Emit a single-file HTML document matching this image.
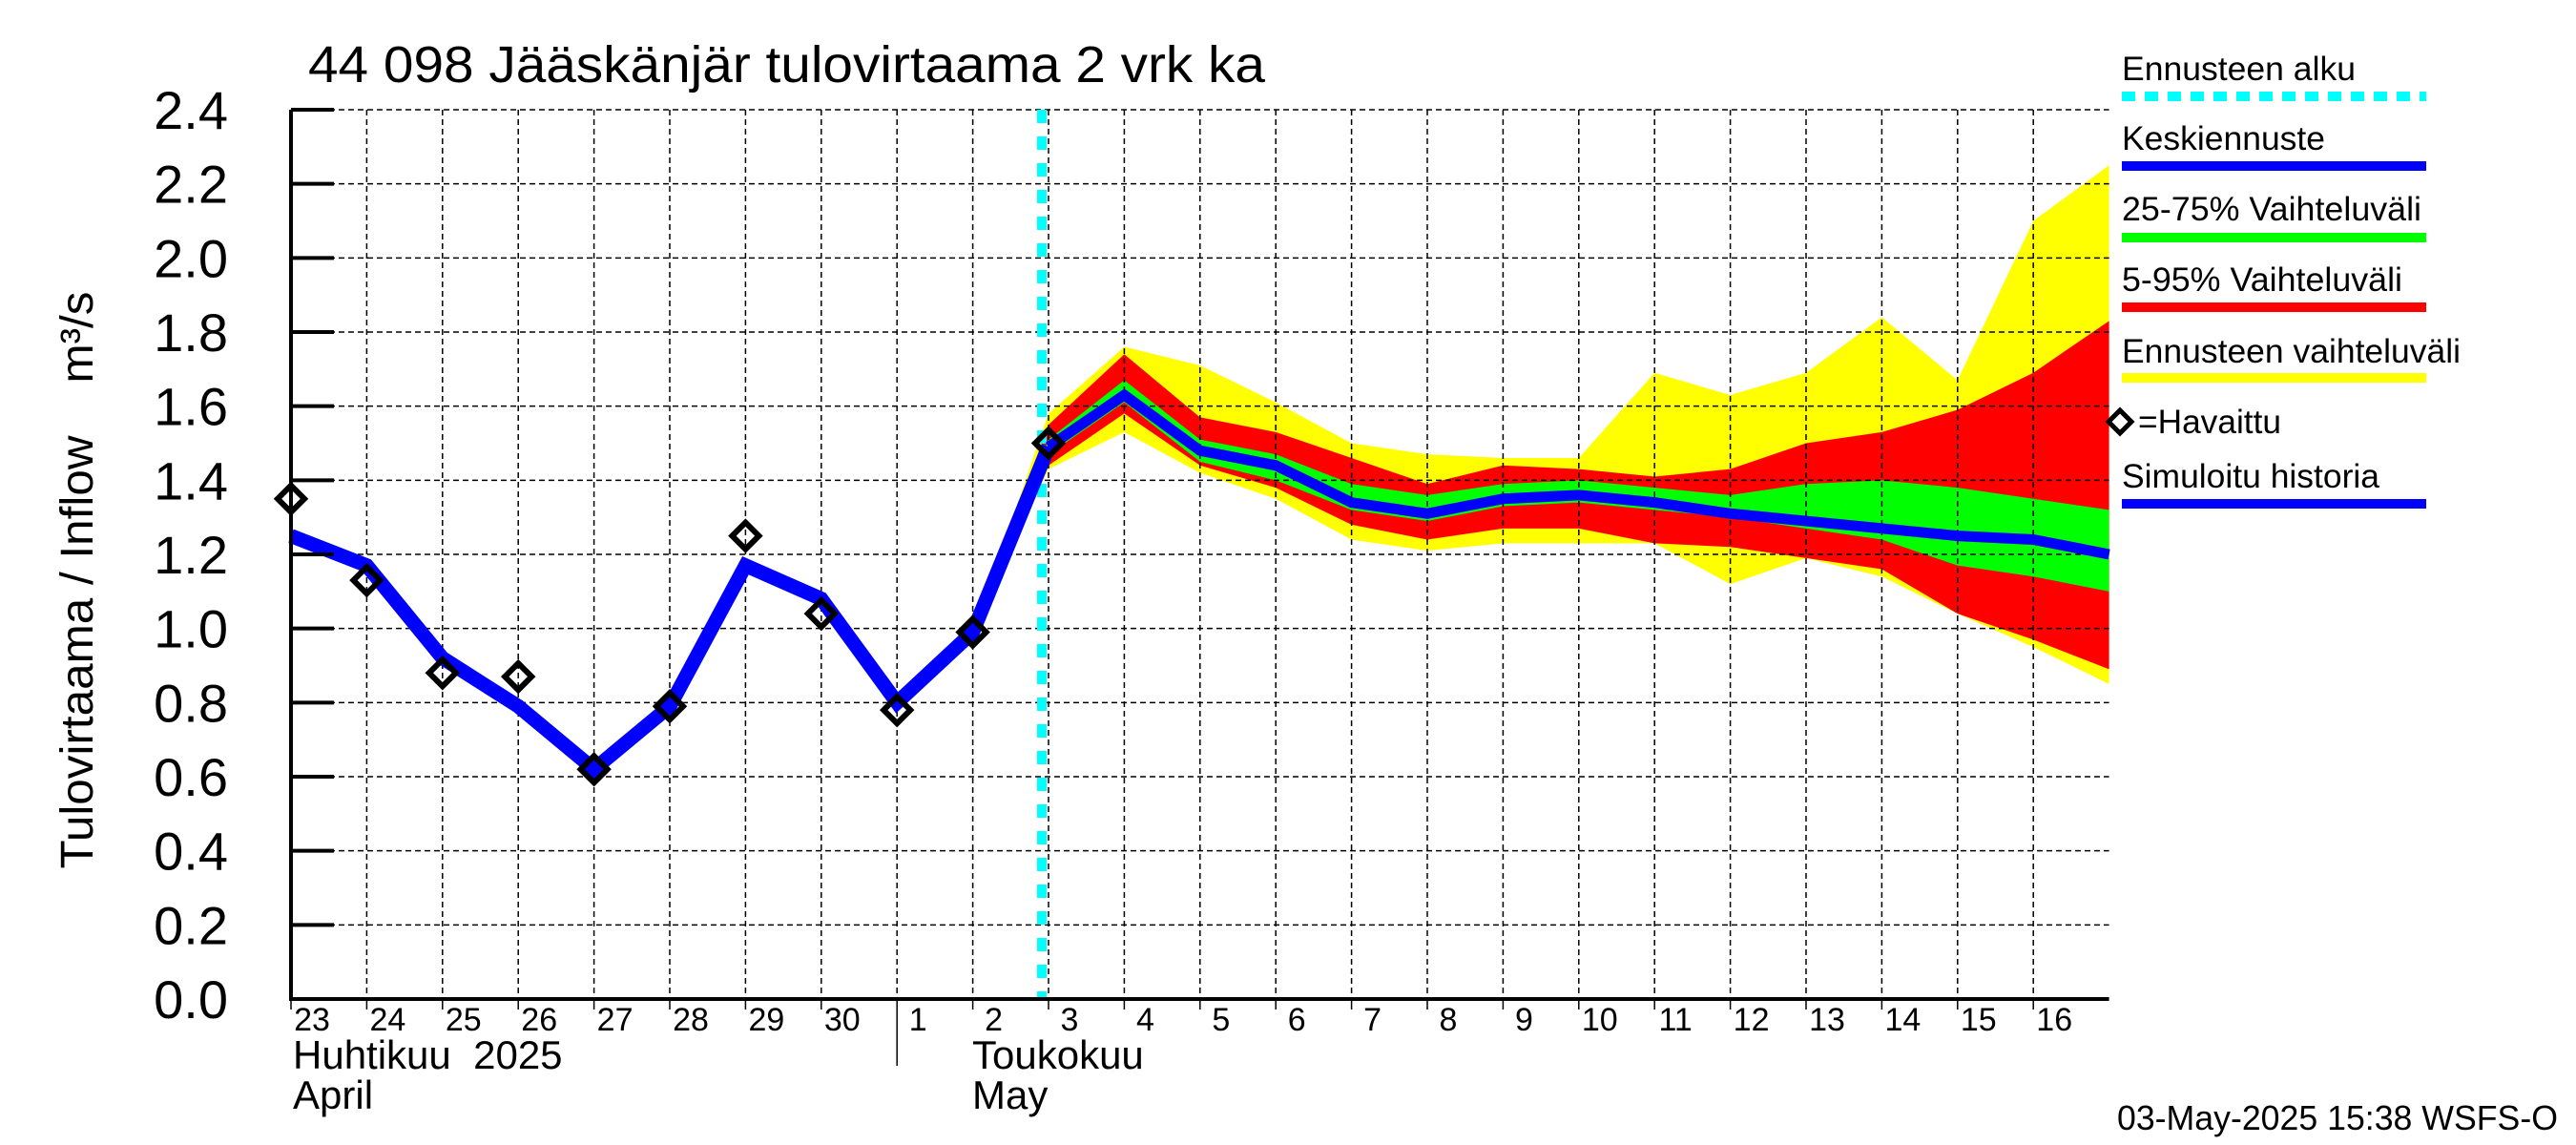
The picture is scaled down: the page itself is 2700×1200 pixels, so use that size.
<!DOCTYPE html>
<html><head><meta charset="utf-8"><style>
html,body{margin:0;padding:0;background:#fff;}
svg{display:block;font-family:"Liberation Sans",sans-serif;}
</style></head><body>
<svg id="chart" width="2700" height="1200" viewBox="0 0 2700 1200" xmlns="http://www.w3.org/2000/svg">
<rect x="0" y="0" width="2700" height="1200" fill="#fff"/>
<g id="bands"></g><g id="grid"></g><g id="lines"></g><g id="axes"></g><g id="legend"></g>
<text x="323" y="86" font-size="54" textLength="1003" lengthAdjust="spacingAndGlyphs">44 098 Jääskänjär tulovirtaama 2 vrk ka</text>
<text transform="translate(97,608) rotate(-90)" text-anchor="middle" font-size="48" textLength="605" lengthAdjust="spacingAndGlyphs">Tulovirtaama / Inflow&#160;&#160;&#160;&#160;m³/s</text>
<text x="307" y="1120" font-size="42">Huhtikuu&#160;&#160;2025</text>
<text x="307" y="1162" font-size="42">April</text>
<text x="1019" y="1120" font-size="42">Toukokuu</text>
<text x="1019" y="1162" font-size="42">May</text>
<text x="2219" y="1184" font-size="36" textLength="462" lengthAdjust="spacingAndGlyphs">03-May-2025 15:38 WSFS-O</text>
</svg>
<script>
// Day index 0 = 23 April ... 24 = 17 May
const dayLabels = ["23","24","25","26","27","28","29","30","1","2","3","4","5","6","7","8","9","10","11","12","13","14","15","16"];
const yTicks = [0,0.2,0.4,0.6,0.8,1.0,1.2,1.4,1.6,1.8,2.0,2.2,2.4];
const obsDays = [0,1,2,3,4,5,6,7,8,9,10];
const obsValues = [1.35,1.13,0.88,0.87,0.62,0.79,1.25,1.04,0.78,0.99,1.50];
const histDays = [0,1,2,3,4,5,6,7,8,9,10];
const histValues = [1.25,1.17,0.92,0.79,0.62,0.79,1.17,1.08,0.80,0.99,1.49];
const fcDays = [10,11,12,13,14,15,16,17,18,19,20,21,22,23,24];
const fcMedian = [1.49,1.63,1.48,1.44,1.34,1.31,1.35,1.36,1.34,1.31,1.29,1.27,1.25,1.24,1.20];
const bandDays = [9,10,11,12,13,14,15,16,17,18,19,20,21,22,23,24];
const yellowTop = [0.99,1.58,1.76,1.71,1.61,1.50,1.47,1.46,1.46,1.69,1.63,1.69,1.84,1.67,2.10,2.25];
const yellowBot = [0.99,1.43,1.53,1.42,1.35,1.24,1.21,1.23,1.23,1.23,1.12,1.19,1.14,1.04,0.95,0.85];
const redTop = [0.99,1.55,1.74,1.57,1.53,1.46,1.39,1.44,1.43,1.41,1.43,1.50,1.53,1.59,1.69,1.83];
const redBot = [0.99,1.44,1.58,1.44,1.38,1.28,1.24,1.27,1.27,1.23,1.22,1.19,1.16,1.04,0.97,0.89];
const greenTop = [0.99,1.51,1.67,1.51,1.47,1.39,1.36,1.39,1.40,1.38,1.36,1.39,1.40,1.38,1.35,1.32];
const greenBot = [0.99,1.47,1.61,1.45,1.40,1.32,1.29,1.33,1.34,1.32,1.30,1.27,1.24,1.17,1.14,1.10];
const forecastStartDay = 10;

const X0=305, DW=79.4, Y0=1047, YT=115, VMAX=2.4;
const xs = d => X0 + d*DW;
const ys = v => Y0 - v/VMAX*(Y0-YT);
const NS="http://www.w3.org/2000/svg";
function mk(parent, tag, attrs){const e=document.createElementNS(NS,tag);for(const k in attrs)e.setAttribute(k,attrs[k]);document.getElementById(parent).appendChild(e);return e;}
const XR = xs(24);

function band(top,bot,color,name){
  let pts=bandDays.map((d,i)=>xs(d)+","+ys(top[i]));
  for(let i=bandDays.length-1;i>=0;i--)pts.push(xs(bandDays[i])+","+ys(bot[i]));
  const p=mk("bands","polygon",{points:pts.join(" "),fill:color});
  
  
}
band(yellowTop,yellowBot,"#ffff00","forecast-range-band");
band(redTop,redBot,"#ff0000","band-5-95");
band(greenTop,greenBot,"#00ff00","band-25-75");

yTicks.forEach((v,i)=>{
  if(i>0){const g=mk("grid","line",{x1:X0,x2:XR,y1:ys(v),y2:ys(v),stroke:"#000","stroke-width":1.5,"stroke-dasharray":"6 4"});
  
  }
  const t=mk("axes","line",{x1:X0,x2:X0+45,y1:ys(v),y2:ys(v),stroke:"#000","stroke-width":4});
  
  
  const l=mk("axes","text",{x:239,y:ys(v)+20,"text-anchor":"end","font-size":56});
  l.textContent=v.toFixed(1);
  
  
});
dayLabels.forEach((s,i)=>{
  if(i>0){const g=mk("grid","line",{x1:xs(i),x2:xs(i),y1:YT,y2:Y0,stroke:"#000","stroke-width":1.5,"stroke-dasharray":"6 4"});
  
  }
  const t=mk("axes","line",{x1:xs(i),x2:xs(i),y1:Y0,y2:(i===8?1117:1058),stroke:"#000","stroke-width":1.5});
  
  
  const l=mk("axes","text",{x:xs(i)+22,y:1080,"text-anchor":"middle","font-size":34});
  l.textContent=s;
  
  
});
const ax=mk("axes","polyline",{points:`${X0},${YT} ${X0},${Y0} ${XR},${Y0}`,fill:"none",stroke:"#000","stroke-width":4});



const fs=mk("lines","line",{x1:xs(forecastStartDay)-7,x2:xs(forecastStartDay)-7,y1:YT,y2:Y0,stroke:"#00ffff","stroke-width":10,"stroke-dasharray":"14 14"});



const hl=mk("lines","polyline",{points:histDays.map((d,i)=>xs(d)+","+ys(histValues[i])).join(" "),fill:"none",stroke:"#0000ff","stroke-width":15,"stroke-linejoin":"miter"});


const fl=mk("lines","polyline",{points:fcDays.map((d,i)=>xs(d)+","+ys(fcMedian[i])).join(" "),fill:"none",stroke:"#0000ff","stroke-width":11});



obsDays.forEach((d,i)=>{
  const cx=xs(d), cy=ys(obsValues[i]), r=14;
  const m=mk("lines","polygon",{points:`${cx},${cy-r} ${cx+r},${cy} ${cx},${cy+r} ${cx-r},${cy}`,fill:"none",stroke:"#000","stroke-width":6});
  
  
});

const LX=2224, LW=319;
const legendItems=[
 {t:"Ennusteen alku",y:84,len:245,ly:101,c:"#00ffff",dash:"14 10",name:"legend-forecast-start"},
 {t:"Keskiennuste",y:157,len:213,ly:174,c:"#0000ff",name:"legend-median-forecast"},
 {t:"25-75% Vaihteluväli",y:231,len:314,ly:249,c:"#00ff00",name:"legend-25-75"},
 {t:"5-95% Vaihteluväli",y:305,len:294,ly:322,c:"#ff0000",name:"legend-5-95"},
 {t:"Ennusteen vaihteluväli",y:380,len:355,ly:396,c:"#ffff00",name:"legend-forecast-range"},
 {t:"Simuloitu historia",y:511,len:270,ly:528,c:"#0000ff",name:"legend-simulated-history"}
];
legendItems.forEach(it=>{
  const tx=mk("legend","text",{x:LX,y:it.y,"font-size":35,textLength:it.len,lengthAdjust:"spacingAndGlyphs"});
  tx.textContent=it.t;
  
  
  const ln=mk("legend","line",{x1:LX,x2:LX+LW,y1:it.ly,y2:it.ly,stroke:it.c,"stroke-width":10});
  if(it.dash)ln.setAttribute("stroke-dasharray",it.dash);
  
  
});
const hd=mk("legend","polygon",{points:"2222,430 2234,442 2222,454 2210,442",fill:"none",stroke:"#000","stroke-width":5});


const ht=mk("legend","text",{x:2241,y:454,"font-size":35,textLength:150,lengthAdjust:"spacingAndGlyphs"});
ht.textContent="=Havaittu";


</script>
</body></html>
